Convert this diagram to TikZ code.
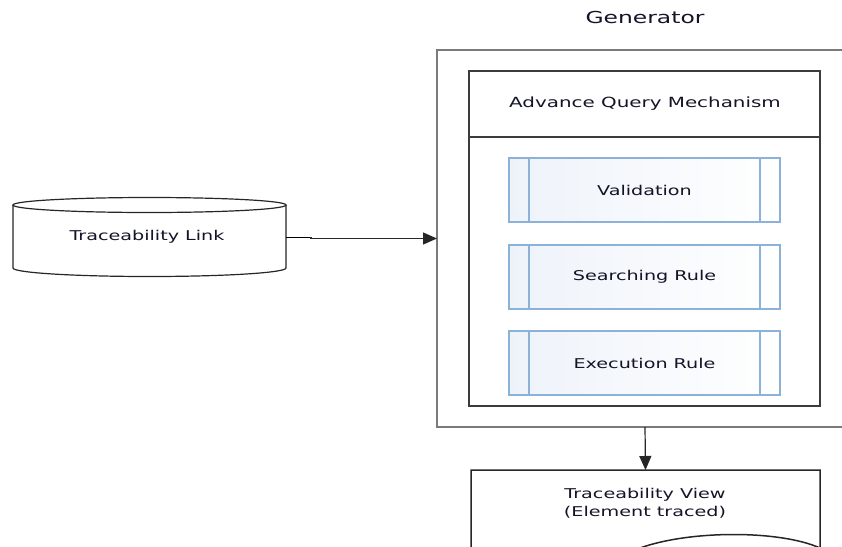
\documentclass[tikz,border=0pt]{standalone}
\usepackage{fontspec}
\setmainfont{DejaVu Sans}
\newfontfamily\lab[FakeStretch=1.42]{DejaVu Sans}
\usetikzlibrary{arrows.meta,calc}
\definecolor{txt}{HTML}{141428}
\definecolor{frame}{HTML}{7A7A7A}
\definecolor{inner}{HTML}{3C3C3C}
\definecolor{subedge}{HTML}{8DB2DA}
\definecolor{subfill}{HTML}{EEF3FA}
\tikzset{
  x=1pt, y=-1pt,
  lbl/.style={font=\lab\fontsize{13.5}{18}\selectfont, text=txt, align=center},
  box/.style={rectangle, inner sep=0pt, outer sep=0pt, anchor=north west},
  subproc/.style={box, draw=subedge, line width=1.2pt, left color=subfill, right color=white,
    minimum width=271pt, minimum height=64pt},
  flow/.style={draw=black!85, line width=1.2pt, -{Triangle[length=14pt,width=12pt]}},
}
\begin{document}
\begin{tikzpicture}
\useasboundingbox (0,0) rectangle (842,546);
\clip (0,0) rectangle (842,546);

% Generator container (its right edge runs past the page)
\node[box, draw=frame, line width=2pt, minimum width=416pt, minimum height=377pt] (gen) at (437,50) {};
\node[font=\lab\fontsize{16.5}{18}\selectfont, text=txt] (gentitle) at (645,17) {Generator};

% Advance Query Mechanism container
\node[box, draw=inner, line width=1.5pt, minimum width=351pt, minimum height=335pt] (aqm) at (469,71) {};
\draw[inner, line width=1.2pt] (469,137) -- (820,137);
\node[lbl, font=\lab\fontsize{14}{18}\selectfont] (aqmtitle) at (645,104) {Advance Query Mechanism};

% Predefined-process steps
\foreach \nm/\y/\t in {val/158/Validation, srch/245/Searching Rule, exec/331/Execution Rule}{
  \node[subproc] (\nm) at (509,\y) {};
  \draw[subedge, line width=1.2pt] ($(\nm.north west)+(20,0)$) -- ($(\nm.south west)+(20,0)$);
  \draw[subedge, line width=1.2pt] ($(\nm.north east)+(-20,0)$) -- ($(\nm.south east)+(-20,0)$);
  \node[lbl] at (\nm.center) {\t};
}

% Traceability Link data store (cylinder)
\node[box, minimum width=273pt, minimum height=64pt] (link) at (13,205) {};
\draw[black!85, line width=1.2pt, fill=white]
  (13,205) -- (13,268) arc[start angle=180, end angle=0, x radius=136.5, y radius=8.5]
  -- (286,205);
\draw[black!85, line width=1.2pt] (149.5,205) ellipse[x radius=136.5, y radius=7.5];
\node[lbl] (linktext) at (147,237) {Traceability Link};

% Traceability View document
\node[box, minimum width=349pt, minimum height=80pt] (view) at (471,470) {};
\draw[black!85, line width=1.5pt] (471,575) -- (471,470) -- (820,470) -- (820,548)
  .. controls (780,530) and (690,530) .. (640,548)
  .. controls (590,566) and (520,575) .. (471,575);
\node[lbl] (viewtext) at (645,503) {Traceability View\\(Element traced)};

% Connectors
\draw[black, line width=1pt] (link.east) -- ++(25,0) coordinate (bend);
\draw[flow] (bend) |- (gen.west);
\draw[flow] (gen.south) -- (view.north);
\end{tikzpicture}
\end{document}
